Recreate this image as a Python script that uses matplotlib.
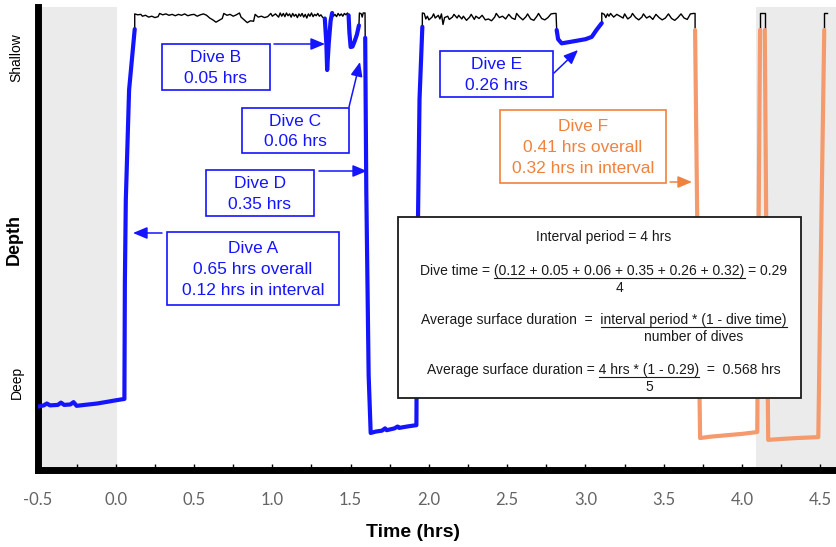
import matplotlib
matplotlib.use("Agg")
import matplotlib.pyplot as plt
from matplotlib.patches import Rectangle, FancyArrowPatch
from matplotlib.lines import Line2D
from matplotlib.ticker import MultipleLocator, FormatStrFormatter
import numpy as np

# depth trace, (time hrs, depth 0=surface..100=deep)
dive_a = [(-0.5, 86.9), (-0.46, 86.6), (-0.44, 86.2), (-0.42, 86.6), (-0.37, 86.5), (-0.35, 86.0),
          (-0.33, 86.5), (-0.29, 86.4), (-0.27, 85.9), (-0.25, 86.7), (-0.2, 86.5), (-0.12, 86.2),
          (-0.05, 85.8), (0.0, 85.5), (0.055, 85.2), (0.058, 60.0), (0.064, 42.0), (0.085, 18.0),
          (0.121, 4.8)]
dive_b = [(1.335, 2.5), (1.345, 8.0), (1.350, 13.7), (1.360, 8.0), (1.372, 3.0), (1.382, 1.3)]
dive_c = [(1.487, 1.8), (1.492, 5.5), (1.500, 8.7), (1.512, 8.6), (1.525, 7.5), (1.540, 6.0),
          (1.553, 4.0)]
dive_d = [(1.593, 6.7), (1.600, 40.0), (1.615, 80.0), (1.628, 92.6), (1.66, 92.3), (1.70, 92.1),
          (1.72, 91.6), (1.73, 92.0), (1.78, 91.6), (1.80, 91.2), (1.81, 91.5), (1.86, 91.2),
          (1.92, 90.9), (1.925, 60.0), (1.94, 20.0), (1.958, 4.3)]
dive_e = [(2.816, 5.0), (2.825, 7.0), (2.848, 7.9), (2.90, 7.6), (2.95, 7.3), (3.00, 7.0),
          (3.04, 6.5), (3.07, 5.0), (3.104, 3.5)]
dive_f = [(3.700, 5.0), (3.715, 50.0), (3.732, 93.7), (3.80, 93.4), (3.90, 93.1), (4.00, 92.8),
          (4.097, 92.4), (4.105, 50.0), (4.115, 5.0)]
dive_g = [(4.145, 5.0), (4.155, 50.0), (4.167, 94.1), (4.25, 93.9), (4.35, 93.7), (4.487, 93.5),
          (4.505, 50.0), (4.525, 5.0)]

surface_1 = [(0.121, 4.8), (0.121, 1.5), (0.14, 1.7), (0.16, 1.6), (0.17, 2.0), (0.19, 1.8),
             (0.21, 2.2), (0.23, 2.0), (0.25, 2.3), (0.27, 2.1), (0.28, 1.4), (0.30, 1.7),
             (0.32, 1.5), (0.34, 1.8), (0.36, 1.6), (0.38, 1.9), (0.40, 1.6), (0.42, 1.8),
             (0.44, 1.5), (0.46, 1.9), (0.48, 1.7), (0.50, 1.6), (0.52, 2.0), (0.54, 1.7),
             (0.56, 1.5), (0.58, 1.8), (0.60, 2.4), (0.62, 2.8), (0.64, 3.3), (0.66, 2.9),
             (0.68, 2.5), (0.69, 1.4), (0.71, 1.8), (0.73, 1.6), (0.75, 2.0), (0.77, 1.7),
             (0.79, 1.3), (0.80, 2.2), (0.82, 2.8), (0.84, 3.4), (0.86, 3.0), (0.88, 3.1),
             (0.89, 1.6), (0.91, 2.2), (0.93, 2.0), (0.95, 2.3), (0.97, 2.1), (0.99, 1.4),
             (1.00, 2.0), (1.02, 1.5), (1.04, 2.2), (1.05, 1.3), (1.06, 2.0), (1.07, 1.4),
             (1.08, 2.1), (1.09, 1.3), (1.10, 1.9), (1.11, 1.5), (1.12, 2.2), (1.13, 1.4),
             (1.14, 2.0), (1.15, 1.6), (1.16, 2.3), (1.17, 1.5), (1.18, 2.0), (1.19, 1.4),
             (1.20, 2.2), (1.21, 1.6), (1.22, 2.4), (1.23, 1.5), (1.24, 2.0), (1.25, 1.3),
             (1.26, 2.1), (1.27, 1.6), (1.28, 1.9), (1.29, 1.4), (1.30, 2.0), (1.31, 1.7),
             (1.32, 2.2), (1.335, 2.5)]
surface_2 = [(1.382, 1.3), (1.39, 2.0), (1.40, 1.6), (1.41, 2.1), (1.42, 1.4), (1.43, 1.9),
             (1.44, 1.5), (1.45, 2.0), (1.46, 1.4), (1.47, 1.7), (1.48, 1.3), (1.487, 1.8)]
surface_3 = [(1.553, 4.0), (1.556, 1.3), (1.568, 1.5), (1.574, 2.2), (1.580, 1.3), (1.592, 1.3),
             (1.593, 6.7)]
surface_4 = [(1.958, 4.3), (1.958, 1.3), (1.97, 1.4), (1.98, 2.6), (1.99, 2.0), (2.00, 2.8),
             (2.02, 2.2), (2.03, 1.5), (2.04, 2.4), (2.06, 1.8), (2.07, 2.6), (2.08, 1.5),
             (2.09, 3.8), (2.10, 2.3), (2.12, 2.0), (2.13, 2.7), (2.15, 2.2), (2.16, 1.6),
             (2.18, 2.4), (2.19, 1.8), (2.21, 2.6), (2.22, 2.0), (2.24, 2.9), (2.26, 2.2),
             (2.27, 1.6), (2.29, 2.7), (2.30, 2.0), (2.32, 2.5), (2.34, 1.8), (2.36, 2.8),
             (2.38, 2.6), (2.40, 3.0), (2.42, 2.2), (2.43, 1.4), (2.45, 2.3), (2.47, 2.0),
             (2.49, 2.6), (2.51, 1.6), (2.53, 2.4), (2.55, 2.7), (2.56, 1.4), (2.58, 2.2),
             (2.60, 2.8), (2.62, 2.1), (2.63, 1.5), (2.65, 2.6), (2.67, 2.9), (2.69, 2.0),
             (2.70, 1.4), (2.72, 2.5), (2.74, 2.8), (2.76, 2.3), (2.78, 1.5), (2.80, 1.4),
             (2.812, 1.4), (2.816, 5.0)]
surface_5 = [(3.104, 3.5), (3.104, 1.3), (3.12, 1.6), (3.13, 2.3), (3.14, 1.5), (3.15, 2.0),
             (3.16, 1.4), (3.18, 2.2), (3.20, 1.6), (3.22, 2.0), (3.24, 2.4), (3.25, 1.5),
             (3.27, 2.6), (3.29, 2.1), (3.30, 1.4), (3.32, 2.3), (3.34, 2.8), (3.36, 2.2),
             (3.37, 1.5), (3.39, 2.4), (3.41, 2.0), (3.43, 2.7), (3.45, 1.6), (3.47, 2.3),
             (3.49, 2.8), (3.51, 2.4), (3.53, 1.5), (3.55, 2.5), (3.57, 2.9), (3.59, 2.3),
             (3.61, 1.5), (3.63, 2.4), (3.65, 2.7), (3.67, 1.5), (3.69, 1.4), (3.70, 1.4),
             (3.70, 5.0)]
surface_6 = [(4.115, 5.0), (4.115, 1.3), (4.145, 1.3), (4.145, 5.0)]
surface_7 = [(4.525, 5.0), (4.525, 1.3), (4.545, 1.3)]

blue_dives = [dive_a, dive_b, dive_c, dive_d, dive_e]
orange_dives = [dive_f, dive_g]
surface_bits = [surface_1, surface_2, surface_3, surface_4, surface_5, surface_6, surface_7]
outside_interval = [(-0.5, 0.01), (4.09, 4.6)]

BLUE = "#1414ff"
ORANGE_LINE = "#f49a6c"
ORANGE_TEXT = "#f0823e"

W, H = 836, 547
fig = plt.figure(figsize=(W / 100, H / 100), dpi=100)
ax = fig.add_axes([37.5 / W, 1 - 470 / H, 798.5 / W, 463 / H])
ax.set_xlim(-0.5, 4.6)
ax.set_ylim(100.65, 0)

for a, b in outside_interval:
    ax.axvspan(a, b, color="#ebebeb", lw=0, zorder=0)

for seg in surface_bits:
    t, d = zip(*seg)
    ax.plot(t, d, color="black", lw=1.0, zorder=2)
for seg in blue_dives:
    t, d = zip(*seg)
    ax.plot(t, d, color=BLUE, lw=3.0, zorder=3, solid_joinstyle="round", solid_capstyle="round")
for seg in orange_dives:
    t, d = zip(*seg)
    ax.plot(t, d, color=ORANGE_LINE, lw=3.0, zorder=3, solid_joinstyle="round", solid_capstyle="round")

for s in ["top", "right"]:
    ax.spines[s].set_visible(False)
for s in ["left", "bottom"]:
    ax.spines[s].set_linewidth(5)
ax.set_yticks([])
ax.xaxis.set_major_locator(MultipleLocator(0.5))
ax.xaxis.set_minor_locator(MultipleLocator(0.25))
ax.xaxis.set_major_formatter(FormatStrFormatter("%.1f"))
ax.tick_params(axis="x", which="both", direction="in", length=4.5, width=1, color="black")
ax.tick_params(axis="x", which="major", pad=16, labelsize=12, labelcolor="#646464",
               labelfontfamily="Lato")

ax.set_xlabel("Time (hrs)", fontsize=14, fontweight="bold", family="Liberation Sans", va="center")
ax.xaxis.set_label_coords(0.470, -0.136)
ax.set_ylabel("Depth", fontsize=13, fontweight="bold", family="Liberation Sans", va="center")
ax.yaxis.set_label_coords(-0.029, 0.497)
ax.text(-0.027, 0.89, "Shallow", rotation=90, transform=ax.transAxes, ha="center", va="center",
        fontsize=10, family="Liberation Sans")
ax.text(-0.026, 0.19, "Deep", rotation=90, transform=ax.transAxes, ha="center", va="center",
        fontsize=10, family="Liberation Sans")


def fpx(x, y):
    return (x / W, 1 - y / H)


def box(x0, y0, x1, y1, color, lw=1.2):
    fig.add_artist(Rectangle(fpx(x0, y1), (x1 - x0) / W, (y1 - y0) / H, transform=fig.transFigure,
                             facecolor="white", edgecolor=color, lw=lw, zorder=5))


def arrow(p0, p1, color):
    fig.add_artist(FancyArrowPatch(fpx(*p0), fpx(*p1), transform=fig.transFigure,
                                   arrowstyle="-|>,head_length=0.86,head_width=0.36",
                                   mutation_scale=10, lw=1.1, color=color, shrinkA=0, shrinkB=0,
                                   zorder=6))


# dive labels: box in pixels, text, colour, arrow tail -> tip
labels = [
    ((167, 232, 339, 305), "Dive A\n0.65 hrs overall\n0.12 hrs in interval", BLUE, (162, 233), (133, 233)),
    ((162, 44, 270, 90), "Dive B\n0.05 hrs", BLUE, (274, 44), (325, 44)),
    ((242, 108, 349, 153), "Dive C\n0.06 hrs", BLUE, (349, 107), (360, 62)),
    ((206, 170, 314, 216), "Dive D\n0.35 hrs", BLUE, (319, 171), (367, 171)),
    ((440, 51, 553, 97), "Dive E\n0.26 hrs", BLUE, (554, 73), (578, 50)),
    ((500, 110, 666, 183), "Dive F\n0.41 hrs overall\n0.32 hrs in interval", ORANGE_TEXT, (670, 182), (692, 182)),
]
for (x0, y0, x1, y1), txt, col, tail, tip in labels:
    box(x0, y0, x1, y1, col)
    fig.text(*fpx((x0 + x1) / 2, (y0 + y1) / 2 + 1), txt, ha="center", va="center",
             multialignment="center", linespacing=1.5, fontsize=12.5, color=col,
             family="Liberation Sans", zorder=7)
    arrow(tail, tip, col)

# formula box
box(398, 217, 801, 398, "#1a1a1a", lw=1.3)
renderer = fig.canvas.get_renderer()
fkw = dict(fontsize=10, family="Liberation Sans", color="#1a1a1a", zorder=7)


def text_w(s):
    t = fig.text(0, 0, s, **fkw)
    w = t.get_window_extent(renderer=renderer).width
    t.remove()
    return w


cx = 604
fig.text(*fpx(cx, 241), "Interval period = 4 hrs", ha="center", va="baseline", **fkw)
formula_lines = [
    ("Dive time = ", "(0.12 + 0.05 + 0.06 + 0.35 + 0.26 + 0.32)", " = 0.29", "4", 275),
    ("Average surface duration  =  ", "interval period * (1 - dive time)", "", "number of dives", 324),
    ("Average surface duration = ", "4 hrs * (1 - 0.29)", "  =  0.568 hrs", "5", 374),
]
for pre, num, post, den, yb in formula_lines:
    full = pre + num + post
    left = cx - text_w(full) / 2
    u1 = left + text_w(pre + num)
    u0 = u1 - text_w(num)
    fig.text(*fpx(left, yb), full, ha="left", va="baseline", **fkw)
    fig.add_artist(Line2D([u0 / W, u1 / W], [1 - (yb + 2.5) / H] * 2, transform=fig.transFigure,
                          color="#1a1a1a", lw=0.8, zorder=7))
    fig.text(*fpx((u0 + u1) / 2, yb + 17), den, ha="center", va="baseline", **fkw)

fig.savefig("out.png", dpi=100)
